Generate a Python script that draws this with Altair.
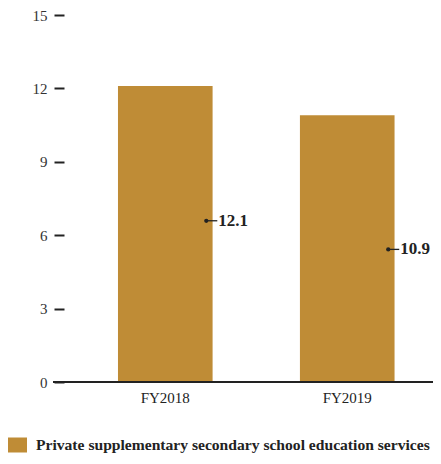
import altair as alt
import pandas as pd

categories = ["FY2018", "FY2019"]
values = [12.1, 10.9]
label_anchor = [6.59, 5.42]
labels = ["12.1", "10.9"]
series = "Private supplementary secondary school education services"

df = pd.DataFrame({"cat": categories, "value": values, "anchor": label_anchor,
                   "label": labels, "series": [series] * 2})

FONT = "Liberation Serif"
BAR = "#BF8C36"
INK = "#222222"
W, H = 369, 367

x = alt.X("cat:N", title=None, sort=categories,
          scale=alt.Scale(paddingInner=0.48, paddingOuter=0.254, align=0.584),
          axis=alt.Axis(ticks=False, domain=False, labelAngle=0, labelPadding=8,
                        labelFont=FONT, labelFontSize=15, labelColor=INK))

bars = alt.Chart(df).mark_bar(color=BAR).encode(
    x=x,
    y=alt.Y("value:Q", title=None,
            scale=alt.Scale(domain=[0, 15], nice=False),
            axis=alt.Axis(values=[0, 3, 6, 9, 12, 15], grid=False, domain=False,
                          tickSize=10, tickWidth=2, tickColor=INK, labelPadding=7,
                          labelFont=FONT, labelFontSize=15, labelColor="#333333")),
    color=alt.Color("series:N", scale=alt.Scale(range=[BAR]),
                    legend=alt.Legend(title=None, orient="none", legendX=-57, legendY=420,
                                      symbolType="M-1,-0.75H1V0.75H-1Z", symbolSize=400,
                                      symbolStrokeWidth=0, labelOffset=9,
                                      labelFont=FONT, labelFontSize=15.6,
                                      labelFontWeight="bold", labelColor=INK,
                                      labelLimit=500)),
)

baseline = alt.Chart(df).mark_rule(color=INK, strokeWidth=2).encode(
    x=alt.value(-11), x2=alt.value(W), y=alt.datum(0, type="quantitative"))

dots = alt.Chart(df).mark_point(filled=True, color=INK, size=18, opacity=1, xOffset=41).encode(
    x=alt.X("cat:N", sort=categories), y="anchor:Q")

leaders = alt.Chart(df).mark_rule(color=INK, strokeWidth=1.3, xOffset=41, x2Offset=52).encode(
    x=alt.X("cat:N", sort=categories), x2=alt.X2("cat:N"), y="anchor:Q")

texts = alt.Chart(df).mark_text(align="left", baseline="middle", dx=53, font=FONT,
                                fontSize=17, fontWeight="bold", color=INK).encode(
    x=alt.X("cat:N", sort=categories), y="anchor:Q", text="label:N")

chart = alt.layer(bars, baseline, dots, leaders, texts).properties(
    width=W, height=H,
    autosize=alt.AutoSizeParams(type="none"),
    padding={"left": 56, "top": 7, "right": 0, "bottom": 74},
).configure_view(stroke=None)

chart.save("out.html", embed_options={"renderer": "svg", "actions": False})
